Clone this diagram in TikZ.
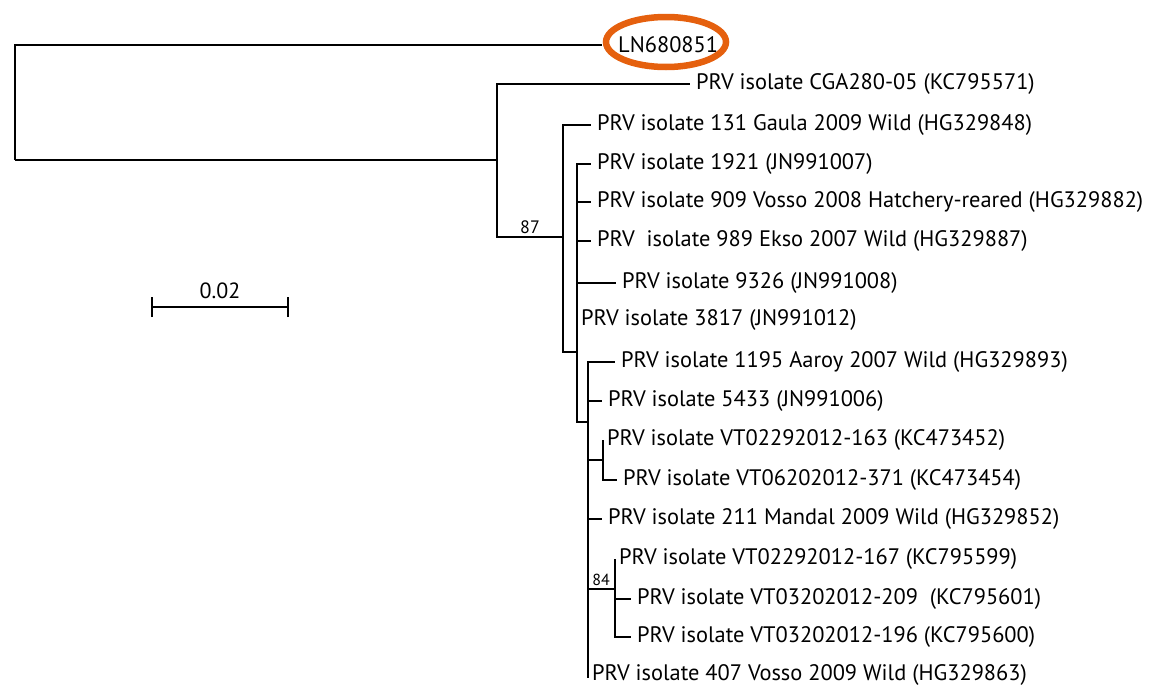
\documentclass[tikz,border=0pt]{standalone}
\usepackage{fontspec}
\setmainfont{PT Sans}
\definecolor{ringorange}{RGB}{229,96,14}
\begin{document}
\begin{tikzpicture}[x=1pt,y=-1pt,
  br/.style={line width=2.9pt,black},
  leaf/.style={anchor=west,inner xsep=6pt,inner ysep=0pt,font=\fontsize{22.4}{24}\selectfont},
  zleaf/.style={anchor=west,inner xsep=4pt,inner ysep=0pt,font=\fontsize{22.4}{24}\selectfont},
  boot/.style={anchor=south,inner sep=1pt,font=\fontsize{18}{19}\selectfont}]
\useasboundingbox (0,0) rectangle (1161,688);
% leaves
\node[leaf,inner xsep=0pt] (ln) at (618,45) {LN680851};
\coordinate (lnend) at (602,45);
\node[leaf] (cga) at (690,84) {PRV isolate CGA280-05 (KC795571)};
\node[leaf] (g131) at (591,125) {PRV isolate 131 Gaula 2009 Wild (HG329848)};
\node[leaf] (i1921) at (591,164) {PRV isolate 1921 (JN991007)};
\node[leaf] (v909) at (591,202) {PRV isolate 909 Vosso 2008 Hatchery-reared (HG329882)};
\node[leaf] (e989) at (591,241) {PRV\ \ isolate 989 Ekso 2007 Wild (HG329887)};
\node[leaf] (i9326) at (616,283) {PRV isolate 9326 (JN991008)};
\node[zleaf] (i3817) at (577,320) {PRV isolate 3817 (JN991012)};
\node[leaf] (a1195) at (615,362) {PRV isolate 1195 Aaroy 2007 Wild (HG329893)};
\node[leaf] (i5433) at (602,401) {PRV isolate 5433 (JN991006)};
\node[zleaf] (vt163) at (603,440) {PRV isolate VT02292012-163 (KC473452)};
\node[leaf] (vt371) at (617,480) {PRV isolate VT06202012-371 (KC473454)};
\node[leaf] (m211) at (602,519) {PRV isolate 211 Mandal 2009 Wild (HG329852)};
\node[zleaf] (vt167) at (615,559) {PRV isolate VT02292012-167 (KC795599)};
\node[leaf] (vt209) at (631,599) {PRV isolate VT03202012-209\ \ (KC795601)};
\node[leaf] (vt196) at (631,637) {PRV isolate VT03202012-196 (KC795600)};
\node[zleaf] (v407) at (588,675) {PRV isolate 407 Vosso 2009 Wild (HG329863)};
% internal nodes
\coordinate (root) at (15,160);
\coordinate (A) at (497,160);
\coordinate (B) at (563,237);
\coordinate (C) at (577,352);
\coordinate (D) at (588,422);
\coordinate (E) at (603,460);
\coordinate (F) at (615,589);
\coordinate (Dend) at (588,678);
% branches
\draw[br] (root) |- (lnend);
\draw[br] (root) -- (A);
\draw[br] (A) |- (cga.west);
\draw[br] (A) |- (B);
\draw[br] (B) |- (g131.west);
\draw[br] (B) |- (C);
\draw[br] (C) |- (i1921.west);
\draw[br] (C) |- (v909.west);
\draw[br] (C) |- (e989.west);
\draw[br] (C) |- (i9326.west);
\draw[br] (C) |- (D);
\draw[br] (D) |- (a1195.west);
\draw[br] (D) |- (i5433.west);
\draw[br] (D) |- (E);
\draw[br] (D) -- (Dend);
\draw[br] (D) |- (m211.west);
\draw[br] (D) |- (F);
\draw[br] (E) |- (vt163.west);
\draw[br] (E) |- (vt371.west);
\draw[br] (F) |- (vt167.west);
\draw[br] (F) |- (vt209.west);
\draw[br] (F) |- (vt196.west);
% bootstrap values
\node[boot] (b87) at (530,235) {87};
\node[boot,font=\fontsize{16}{17}\selectfont] (b84) at (601,587) {84};
% scale bar
\coordinate (sbL) at (152,307);
\coordinate (sbR) at (288,307);
\draw[br] (sbL) -- (sbR);
\draw[br] ([yshift=-10pt]sbL) -- ([yshift=10pt]sbL);
\draw[br] ([yshift=-10pt]sbR) -- ([yshift=10pt]sbR);
\node[anchor=south,inner sep=0pt,font=\fontsize{22}{24}\selectfont] (sblab) at (220,299) {0.02};
% highlight ring
\coordinate (ringc) at (666,42);
\draw[ringorange,line width=6.5pt] (ringc) ellipse [x radius=60pt,y radius=25pt];
\end{tikzpicture}
\end{document}
